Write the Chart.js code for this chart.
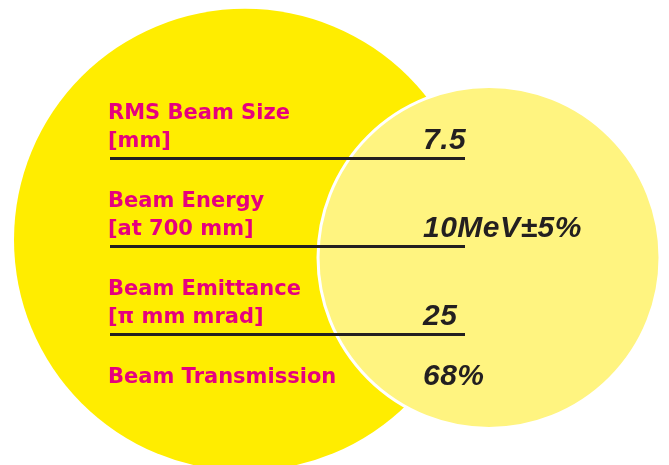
<!DOCTYPE html>
<html>
<head>
<meta charset="utf-8">
<script src="https://cdn.jsdelivr.net/npm/chart.js@4.4.1/dist/chart.umd.min.js"></script>
<style>
  html, body { margin: 0; padding: 0; background: #fff; }
  #wrap { width: 669px; height: 465px; position: relative; }
</style>
</head>
<body>
<div id="wrap"><canvas id="beam"></canvas></div>
<script>
// rows of the table, top to bottom
const categories = [
  ["RMS Beam Size", "[mm]"],
  ["Beam Energy", "[at 700 mm]"],
  ["Beam Emittance", "[π mm mrad]"],
  ["Beam Transmission"],
];
const values = ["7.5", "10MeV±5%", "25", "68%"];

// row separators (y-scale ticks that get a rule)
const separators = [1, 2, 3];

const LABEL_COLOR = "#e6007e";
const VALUE_COLOR = "#231f20";

// the two background discs (decoration only), in scale units
const discLayer = {
  data: [
    { x: 135, y: 1.93, r: 231 },
    { x: 379, y: 2.13, r: 171 },
  ],
  backgroundColor: ["#ffed00", "#fff480"],
  borderColor: ["rgba(0,0,0,0)", "#ffffff"],
  borderWidth: [0, 3],
};

// labels + values drawn from the y scale rows
const tablePlugin = {
  id: "tableText",
  afterDraw(chart) {
    const { ctx, chartArea, scales } = chart;
    const y = scales.y;
    ctx.save();
    ctx.textBaseline = "alphabetic";
    ctx.textAlign = "left";
    categories.forEach((lines, i) => {
      const bottom = y.getPixelForValue(i + 1);
      const first = bottom - 39;
      ctx.fillStyle = LABEL_COLOR;
      ctx.font = "bold 21px 'DejaVu Sans', sans-serif";
      lines.forEach((t, k) => {
        ctx.fillText(t, chartArea.left - 2, first + 28 * k);
      });
      const last = first + 28 * (lines.length - 1);
      ctx.fillStyle = VALUE_COLOR;
      ctx.font = "italic bold 30px 'Liberation Sans', Arial, sans-serif";
      ctx.letterSpacing = "0.5px";
      ctx.fillText(values[i], chartArea.right - 42, last + 2);
      ctx.letterSpacing = "0px";
    });
    ctx.restore();
  },
};

new Chart(document.getElementById("beam"), {
  type: "bubble",
  data: {
    datasets: [{
      ...discLayer,
      clip: false,
      hoverRadius: 0,
    }],
  },
  options: {
    responsive: true,
    maintainAspectRatio: false,
    animation: false,
    events: [],
    layout: { autoPadding: false, padding: { left: 110, right: 204, top: 70, bottom: 43 } },
    plugins: { legend: { display: false }, tooltip: { enabled: false } },
    scales: {
      x: { type: "linear", min: 0, max: 355, display: false },
      y: {
        type: "linear",
        min: 0,
        max: categories.length,
        reverse: true,
        ticks: { display: false, stepSize: 1 },
        border: { display: false },
        grid: {
          z: 1,
          drawTicks: false,
          lineWidth: 3,
          color: (c) => separators.includes(c.tick && c.tick.value) ? "#231f20" : "rgba(0,0,0,0)",
        },
      },
    },
  },
  plugins: [tablePlugin],
});
</script>
</body>
</html>
